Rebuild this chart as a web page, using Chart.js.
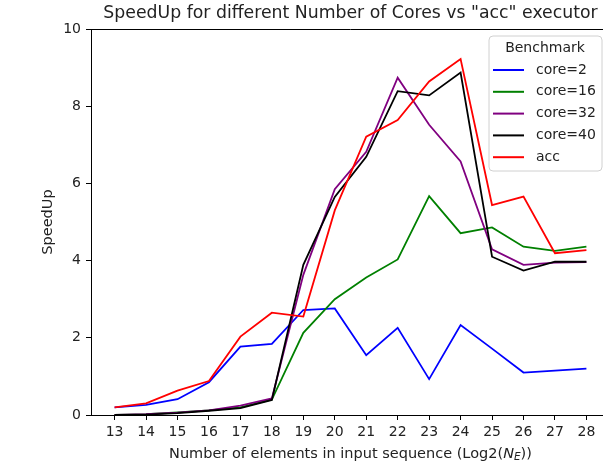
<!DOCTYPE html>
<html>
<head>
<meta charset="utf-8">
<script src="https://cdn.jsdelivr.net/npm/chart.js@4"></script>
<style>
  html, body { margin: 0; padding: 0; background: #fff; overflow: hidden; }
  #wrap { width: 701px; height: 466px; }
</style>
</head>
<body>
<div id="wrap"><canvas id="speedup" width="701" height="466"></canvas></div>
<script>
// input sizes, log2(N_E)
const sizes = [13, 14, 15, 16, 17, 18, 19, 20, 21, 22, 23, 24, 25, 26, 27, 28];
const yTicks = [0, 2, 4, 6, 8, 10];

const core2  = [0.20, 0.26, 0.41, 0.85, 1.77, 1.84, 2.72, 2.76, 1.55, 2.26, 0.93, 2.33, 1.72, 1.10, 1.15, 1.20];
const core16 = [0.00, 0.02, 0.07, 0.12, 0.20, 0.40, 2.13, 3.00, 3.56, 4.03, 5.67, 4.71, 4.86, 4.36, 4.25, 4.36];
const core32 = [0.00, 0.02, 0.06, 0.12, 0.24, 0.43, 3.63, 5.85, 6.82, 8.74, 7.52, 6.57, 4.29, 3.89, 3.95, 3.96];
const core40 = [0.00, 0.01, 0.05, 0.11, 0.18, 0.39, 3.89, 5.65, 6.69, 8.39, 8.28, 8.87, 4.10, 3.74, 3.97, 3.97];
const acc    = [0.20, 0.30, 0.63, 0.88, 2.03, 2.65, 2.55, 5.30, 7.21, 7.64, 8.64, 9.22, 5.44, 5.66, 4.19, 4.27];

const seriesNames = ['core=2', 'core=16', 'core=32', 'core=40', 'acc'];
const seriesColors = ['#0000ff', '#008000', '#800080', '#000000', '#ff0000'];
const seriesValues = [core2, core16, core32, core40, acc];

const chartTitle = 'SpeedUp for different Number of Cores vs "acc" executor';
const FONT = "'DejaVu Sans', sans-serif";

const toPoints = vals => vals.map((v, i) => ({ x: sizes[i], y: v }));

// matplotlib-like extras: title, top frame, axis titles, legend box
const extras = {
    id: 'extras',
    afterDatasetsDraw(chart) {
        const { ctx, chartArea: a } = chart;
        ctx.save();
        ctx.strokeStyle = '#000';
        ctx.lineWidth = 1;
        ctx.beginPath();
        ctx.moveTo(a.left, a.top + 0.5);
        ctx.lineTo(a.right, a.top + 0.5);
        ctx.lineTo(a.right - 0.5, a.bottom);
        ctx.stroke();
        ctx.restore();
    },
    afterDraw(chart) {
        const { ctx, chartArea: a } = chart;
        const cx = (a.left + a.right) / 2;
        ctx.save();
        ctx.fillStyle = '#222';
        ctx.textBaseline = 'middle';

        // title, centred over the axes like matplotlib
        ctx.textAlign = 'center';
        ctx.font = `17.3px ${FONT}`;
        ctx.fillText(chartTitle, cx, 14);

        // y title
        ctx.save();
        ctx.translate(48, (a.top + a.bottom) / 2);
        ctx.rotate(-Math.PI / 2);
        ctx.font = `14.5px ${FONT}`;
        ctx.fillText('SpeedUp', 0, 0);
        ctx.restore();

        // x title with italic N and subscript E
        const parts = [
            { t: 'Number of elements in input sequence (Log2(', f: `14.5px ${FONT}`, dy: 0 },
            { t: 'N', f: `italic 14.5px ${FONT}`, dy: 0 },
            { t: 'E', f: `italic 10.5px ${FONT}`, dy: 3 },
            { t: '))', f: `14.5px ${FONT}`, dy: 0 }
        ];
        let total = 0;
        parts.forEach(p => { ctx.font = p.f; p.w = ctx.measureText(p.t).width; total += p.w; });
        let x = cx - total / 2;
        ctx.textAlign = 'left';
        parts.forEach(p => {
            ctx.font = p.f;
            ctx.fillText(p.t, x, 454 + p.dy);
            x += p.w;
        });

        // legend
        const bx = 489, by = 36, bw = 113, bh = 135, r = 4;
        ctx.beginPath();
        ctx.moveTo(bx + r, by);
        ctx.arcTo(bx + bw, by, bx + bw, by + bh, r);
        ctx.arcTo(bx + bw, by + bh, bx, by + bh, r);
        ctx.arcTo(bx, by + bh, bx, by, r);
        ctx.arcTo(bx, by, bx + bw, by, r);
        ctx.closePath();
        ctx.fillStyle = 'rgba(255,255,255,0.8)';
        ctx.fill();
        ctx.strokeStyle = '#d0d0d0';
        ctx.lineWidth = 1;
        ctx.stroke();

        ctx.fillStyle = '#222';
        ctx.font = `14px ${FONT}`;
        ctx.textAlign = 'center';
        ctx.fillText('Benchmark', bx + 56, 48);
        ctx.textAlign = 'left';
        chart.data.datasets.forEach((ds, i) => {
            const y = 70 + i * 21.8;
            ctx.strokeStyle = ds.borderColor;
            ctx.lineWidth = 2;
            ctx.beginPath();
            ctx.moveTo(493, y);
            ctx.lineTo(524, y);
            ctx.stroke();
            ctx.fillStyle = '#222';
            ctx.fillText(ds.label, 536, y);
        });
        ctx.restore();
    }
};

new Chart(document.getElementById('speedup'), {
    type: 'line',
    data: {
        datasets: seriesNames.map((name, i) => ({
            label: name,
            data: toPoints(seriesValues[i]),
            borderColor: seriesColors[i],
            backgroundColor: seriesColors[i],
            borderWidth: 1.8,
            pointRadius: 0,
            tension: 0,
            order: seriesNames.length - i
        }))
    },
    options: {
        responsive: false,
        animation: false,
        events: [],
        layout: { padding: { left: 0, right: 91, top: 29, bottom: 0 } },
        plugins: {
            legend: { display: false },
            tooltip: { enabled: false },
            title: { display: false }
        },
        scales: {
            x: {
                type: 'linear',
                min: 12.25,
                max: 28.75,
                afterFit: s => { s.height = 51; },
                afterBuildTicks: s => { s.ticks = sizes.map(v => ({ value: v })); },
                grid: { drawOnChartArea: false, drawTicks: true, tickLength: 5, color: '#000' },
                border: { display: true, color: '#000', width: 1 },
                ticks: { color: '#222', padding: 4, font: { family: FONT, size: 14 }, maxRotation: 0, autoSkip: false }
            },
            y: {
                min: 0,
                max: 10,
                afterFit: s => { s.width = 91; },
                afterBuildTicks: s => { s.ticks = yTicks.map(v => ({ value: v })); },
                grid: { drawOnChartArea: false, drawTicks: true, tickLength: 5, color: '#000' },
                border: { display: true, color: '#000', width: 1 },
                ticks: { color: '#222', padding: 5, font: { family: FONT, size: 14 } }
            }
        }
    },
    plugins: [extras]
});
</script>
</body>
</html>
